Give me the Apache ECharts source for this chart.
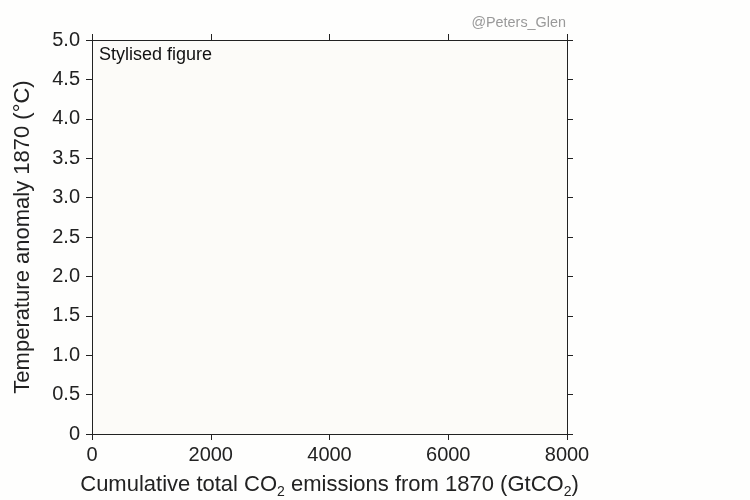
<!DOCTYPE html>
<html>
<head>
<meta charset="utf-8">
<script src="https://cdn.jsdelivr.net/npm/echarts@6/dist/echarts.min.js"></script>
<style>
html,body{margin:0;padding:0;background:#fefefd;overflow:hidden;}
#chart{width:750px;height:500px;}
</style>
</head>
<body>
<div id="chart"></div>
<script>
// Data
var xTicks = [0, 2000, 4000, 6000, 8000];
var yTicks = [0, 0.5, 1.0, 1.5, 2.0, 2.5, 3.0, 3.5, 4.0, 4.5, 5.0];
var yTickLabels = ['0', '0.5', '1.0', '1.5', '2.0', '2.5', '3.0', '3.5', '4.0', '4.5', '5.0'];
var seriesData = []; // stylised figure: empty frame

var FONT = 'Liberation Sans, Arial, Helvetica, sans-serif';
var axisColor = '#222';

function yLabel(v) {
  for (var i = 0; i < yTicks.length; i++) if (Math.abs(yTicks[i] - v) < 1e-9) return yTickLabels[i];
  return '';
}

var chart = echarts.init(document.getElementById('chart'), null, {renderer: 'canvas', width: 750, height: 500});
var baseAxisX = {
  type: 'value', min: xTicks[0], max: xTicks[xTicks.length - 1], interval: 2000,
  axisLine: {show: true, onZero: false, lineStyle: {color: axisColor, width: 1}},
  axisTick: {show: true, inside: false, length: 6, lineStyle: {color: axisColor}},
  splitLine: {show: false}
};
var baseAxisY = {
  type: 'value', min: yTicks[0], max: yTicks[yTicks.length - 1], interval: 0.5,
  axisLine: {show: true, onZero: false, lineStyle: {color: axisColor, width: 1}},
  axisTick: {show: true, inside: false, length: 6, lineStyle: {color: axisColor}},
  splitLine: {show: false}
};
var option = {
  backgroundColor: '#fefefd',
  animation: false,
  grid: {left: 92, right: 183, top: 40, bottom: 66, show: true, backgroundColor: '#fcfbf8', borderWidth: 0,
         containLabel: false, outerBoundsMode: 'none'},
  xAxis: [
    Object.assign({}, baseAxisX, {
      position: 'bottom',
      axisLabel: {show: true, margin: 11, fontSize: 20, color: '#222', fontFamily: FONT, formatter: function (v) { return String(v); }},
      name: '{a|Cumulative total CO}{s|2}{a| emissions from 1870 (GtCO}{s|2}{a|)}',
      nameLocation: 'middle', nameGap: 37,
      nameTextStyle: {
        fontFamily: FONT, color: '#222',
        rich: {
          a: {fontSize: 22, fontFamily: FONT, color: '#222', lineHeight: 28},
          s: {fontSize: 14, fontFamily: FONT, color: '#222', lineHeight: 28, verticalAlign: 'bottom'}
        }
      }
    }),
    Object.assign({}, baseAxisX, {position: 'top', axisLabel: {show: false}})
  ],
  yAxis: [
    Object.assign({}, baseAxisY, {
      position: 'left',
      axisLabel: {show: true, margin: 12, fontSize: 20, color: '#222', fontFamily: FONT, formatter: yLabel},
      name: 'Temperature anomaly 1870 (°C)',
      nameLocation: 'middle', nameGap: 58, nameRotate: 90,
      nameTextStyle: {fontSize: 22, color: '#222', fontFamily: FONT}
    }),
    Object.assign({}, baseAxisY, {position: 'right', axisLabel: {show: false}})
  ],
  graphic: [
    {type: 'text', left: 99, top: 46, style: {text: 'Stylised figure', font: '18px ' + FONT, fill: '#111'}},
    {type: 'text', right: 184, top: 16, style: {text: '@Peters_Glen', font: '14.4px ' + FONT, fill: '#999'}}
  ],
  series: [{type: 'line', data: seriesData, xAxisIndex: 0, yAxisIndex: 0, showSymbol: false}]
};
chart.setOption(option);
</script>
</body>
</html>
